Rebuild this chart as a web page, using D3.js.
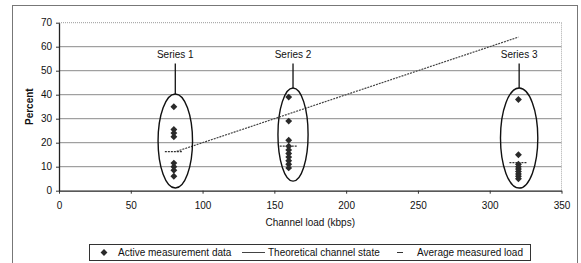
<!DOCTYPE html>
<html>
<head>
<meta charset="utf-8">
<script src="https://cdn.jsdelivr.net/npm/d3@7"></script>
<style>
  body { margin: 0; background: #fff; }
  text { font-family: "Liberation Sans", Arial, sans-serif; fill: #111; }
</style>
</head>
<body>
<div id="chart"></div>
<script>
// data
var seriesNames = ["Series 1", "Series 2", "Series 3"];
var seriesLoad = [80, 160, 320];
var series1 = [35, 25.5, 24, 22.5, 11.5, 10, 8.5, 6];
var series2 = [39, 29, 21, 18.5, 17, 15.5, 14, 12.5, 11, 9.5];
var series3 = [38, 15, 11, 10, 9, 8, 7, 6, 5];
var averageLoad = [16.3, 18.6, 11.7];
var theoryLoad = [82, 160, 320];
var theoryPercent = [16.4, 32, 64];
var xTicks = [0, 50, 100, 150, 200, 250, 300, 350];
var yTicks = [0, 10, 20, 30, 40, 50, 60, 70];
// ellipse annotations: centre load, low %, high %, half width (kbps)
var ellCenter = [81, 163, 320.5];
var ellLow = [1.1, 4, 1.1];
var ellHigh = [40.3, 42.8, 42.8];
var ellHalf = [12, 10.5, 13];

var svgWidth = 581;
var svgHeight = 263;

var svg = d3.select("#chart")
  .append("svg")
  .attr("width", svgWidth)
  .attr("height", svgHeight);

// outer frame
svg.append("rect")
  .attr("x", 12.5).attr("y", 5.5)
  .attr("width", 565).attr("height", 270)
  .attr("fill", "none")
  .attr("stroke", "#777")
  .attr("stroke-width", 1);

var x = d3.scaleLinear().domain([0, 350]).range([59, 561.5]);
var y = d3.scaleLinear().domain([0, 70]).range([190.7, 22.7]);

// gridlines
svg.append("g")
  .selectAll("line")
  .data(yTicks.slice(1))
  .enter()
  .append("line")
  .attr("x1", x(0)).attr("x2", x(350))
  .attr("y1", d => y(d)).attr("y2", d => y(d))
  .attr("stroke", d => d === 70 ? "#999" : "#8a8a8a")
  .attr("stroke-dasharray", d => d === 70 ? "1,1" : null)
  .attr("stroke-width", 1);

// right border of plot area
svg.append("line")
  .attr("x1", x(350)).attr("x2", x(350))
  .attr("y1", y(70)).attr("y2", y(0))
  .attr("stroke", "#aaa")
  .attr("stroke-dasharray", "1,1");

// axes
var bottomAxis = d3.axisBottom(x).tickValues(xTicks).tickSize(3).tickSizeOuter(0);
var leftAxis = d3.axisLeft(y).tickValues(yTicks).tickSize(3).tickSizeOuter(0);

var xAxis = svg.append("g")
  .attr("transform", `translate(0, ${y(0)})`)
  .call(bottomAxis);
xAxis.selectAll("text").attr("dy", "1.2em").style("font-size", "10px").style("fill", "#111");

var yAxis = svg.append("g")
  .attr("transform", `translate(${x(0)}, 0)`)
  .call(leftAxis);
yAxis.selectAll("text").attr("x", -7).style("font-size", "10px").style("fill", "#111");

svg.selectAll(".domain").attr("stroke", "#222").attr("stroke-width", 1.3);
svg.selectAll(".tick line").attr("stroke", "#333");

// axis titles
svg.append("text")
  .attr("x", (x(0) + x(350)) / 2)
  .attr("y", 226)
  .attr("text-anchor", "middle")
  .style("font-size", "10px")
  .text("Channel load (kbps)");

svg.append("text")
  .attr("transform", `translate(33, ${(y(0) + y(70)) / 2}) rotate(-90)`)
  .attr("text-anchor", "middle")
  .style("font-size", "10px")
  .style("font-weight", "bold")
  .text("Percent");

// theoretical channel state
var line = d3.line()
  .x(d => x(d[0]))
  .y(d => y(d[1]));

svg.append("path")
  .datum(theoryLoad.map((d, i) => [d, theoryPercent[i]]))
  .attr("d", line)
  .attr("fill", "none")
  .attr("stroke", "#444")
  .attr("stroke-width", 1.2)
  .attr("stroke-dasharray", "2,1");

// ellipses, labels and leader lines
var ells = seriesNames.map((name, i) => ({
  name: name, cx: ellCenter[i], lo: ellLow[i], hi: ellHigh[i], half: ellHalf[i]
}));

svg.selectAll(".ell")
  .data(ells)
  .enter()
  .append("ellipse")
  .attr("cx", d => x(d.cx))
  .attr("cy", d => (y(d.lo) + y(d.hi)) / 2)
  .attr("rx", d => x(d.half) - x(0))
  .attr("ry", d => (y(d.lo) - y(d.hi)) / 2)
  .attr("fill", "none")
  .attr("stroke", "#111")
  .attr("stroke-width", 1.4);

svg.selectAll(".leader")
  .data(ells)
  .enter()
  .append("line")
  .attr("x1", d => x(d.cx)).attr("x2", d => x(d.cx))
  .attr("y1", y(53)).attr("y2", d => y(d.hi))
  .attr("stroke", "#111")
  .attr("stroke-width", 1.3);

svg.selectAll(".slabel")
  .data(ells)
  .enter()
  .append("text")
  .attr("x", d => x(d.cx))
  .attr("y", y(55.3))
  .attr("text-anchor", "middle")
  .style("font-size", "10px")
  .text(d => d.name);

// measurement points
var points = [];
[series1, series2, series3].forEach(function (vals, i) {
  vals.forEach(function (v) {
    points.push({ load: seriesLoad[i], pct: v });
  });
});

var diamond = d3.symbol().type(d3.symbolDiamond2).size(30);

svg.selectAll(".pt")
  .data(points)
  .enter()
  .append("path")
  .attr("d", diamond)
  .attr("transform", d => `translate(${x(d.load)}, ${y(d.pct)})`)
  .attr("fill", "#2a2a2a");

// average measured load
svg.selectAll(".avg")
  .data(averageLoad)
  .enter()
  .append("line")
  .attr("x1", (d, i) => x(seriesLoad[i]) - 9)
  .attr("x2", (d, i) => x(seriesLoad[i]) + 9)
  .attr("y1", d => y(d)).attr("y2", d => y(d))
  .attr("stroke", "#333")
  .attr("stroke-width", 1.3)
  .attr("stroke-dasharray", "2,1");

// legend
var legend = svg.append("g");
legend.append("rect")
  .attr("x", 89.5).attr("y", 244.5)
  .attr("width", 441).attr("height", 16)
  .attr("fill", "#fff")
  .attr("stroke", "#333");

legend.append("path")
  .attr("d", diamond)
  .attr("transform", "translate(104, 252.5)")
  .attr("fill", "#2a2a2a");
legend.append("text")
  .attr("x", 118).attr("y", 256)
  .style("font-size", "10px")
  .text("Active measurement data");

legend.append("line")
  .attr("x1", 242).attr("x2", 265)
  .attr("y1", 252.5).attr("y2", 252.5)
  .attr("stroke", "#444");
legend.append("text")
  .attr("x", 268).attr("y", 256)
  .style("font-size", "10px")
  .text("Theoretical channel state");

legend.append("line")
  .attr("x1", 397).attr("x2", 403)
  .attr("y1", 252.5).attr("y2", 252.5)
  .attr("stroke", "#333");
legend.append("text")
  .attr("x", 417).attr("y", 256)
  .style("font-size", "10px")
  .text("Average measured load");
</script>
</body>
</html>
